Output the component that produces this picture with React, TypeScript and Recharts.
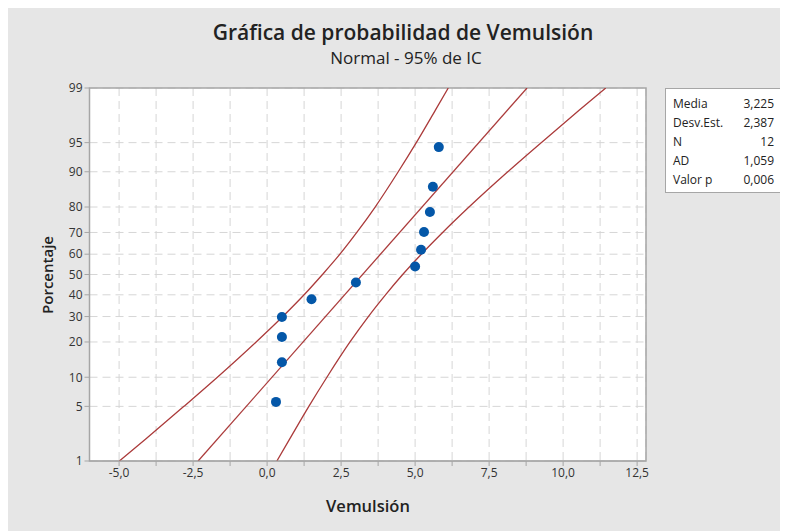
import React from 'react';
import {
  ComposedChart,
  XAxis,
  YAxis,
  CartesianGrid,
  Line,
  Scatter,
  ReferenceArea,
} from 'recharts';

// Vemulsión observations and their plotted percentages (median ranks)
const vemulsion = [0.3, 0.5, 0.5, 0.5, 1.5, 3.0, 5.0, 5.2, 5.3, 5.5, 5.6, 5.8];
const percentages = [5.6, 13.7, 21.8, 29.8, 37.9, 46.0, 54.0, 62.1, 70.2, 78.2, 86.3, 94.4];

// fitted line ends
const fitX = [-2.33, 8.78];
const fitPct = [1, 99];

// 95% confidence band, read at these percentages
const bandPct = [1, 2, 5, 10, 20, 30, 40, 50, 60, 70, 80, 90, 95, 98, 99];
const bandLower = [-4.99, -4.11, -2.81, -1.68, -0.37, 0.53, 1.25, 1.87, 2.46, 3.03, 3.65, 4.43, 5.04, 5.69, 6.12];
const bandUpper = [0.33, 0.76, 1.41, 2.02, 2.8, 3.42, 4.0, 4.58, 5.21, 5.93, 6.82, 8.13, 9.26, 10.56, 11.44];

const percentTicks = [1, 5, 10, 20, 30, 40, 50, 60, 70, 80, 90, 95, 99];
const xTicks = [-5, -3.75, -2.5, -1.25, 0, 1.25, 2.5, 3.75, 5, 6.25, 7.5, 8.75, 10, 11.25, 12.5];
const xLabelled = [-5, -2.5, 0, 2.5, 5, 7.5, 10, 12.5];

const stats = [
  ['Media', '3,225'],
  ['Desv.Est.', '2,387'],
  ['N', '12'],
  ['AD', '1,059'],
  ['Valor p', '0,006'],
];

// inverse standard normal CDF (Acklam), used as the probability-axis scale
function probit(p: number): number {
  const a = [-39.69683028665376, 220.9460984245205, -275.928510446969, 138.357751867269, -30.66479806614716, 2.506628277459239];
  const b = [-54.47609879822406, 161.5858368580409, -155.6989798598866, 66.80131188771972, -13.28068155288572];
  const c = [-0.007784894002430293, -0.3223964580411365, -2.400758277161838, -2.549732539343734, 4.374664141464968, 2.938163982698783];
  const d = [0.007784695709041462, 0.3224671290700398, 2.445134137142996, 3.754408661907416];
  const pl = 0.02425;
  if (p < pl) {
    const q = Math.sqrt(-2 * Math.log(p));
    return (((((c[0] * q + c[1]) * q + c[2]) * q + c[3]) * q + c[4]) * q + c[5]) / ((((d[0] * q + d[1]) * q + d[2]) * q + d[3]) * q + 1);
  }
  if (p > 1 - pl) {
    const q = Math.sqrt(-2 * Math.log(1 - p));
    return -(((((c[0] * q + c[1]) * q + c[2]) * q + c[3]) * q + c[4]) * q + c[5]) / ((((d[0] * q + d[1]) * q + d[2]) * q + d[3]) * q + 1);
  }
  const q = p - 0.5;
  const r = q * q;
  return ((((((a[0] * r + a[1]) * r + a[2]) * r + a[3]) * r + a[4]) * r + a[5]) * q) / (((((b[0] * r + b[1]) * r + b[2]) * r + b[3]) * r + b[4]) * r + 1);
}

const z = (pct: number) => probit(pct / 100);

const points = vemulsion.map((x, i) => ({ x, z: z(percentages[i]) }));
const fitLine = fitX.map((x, i) => ({ x, z: z(fitPct[i]) }));
const lowerLine = bandLower.map((x, i) => ({ x, z: z(bandPct[i]) }));
const upperLine = bandUpper.map((x, i) => ({ x, z: z(bandPct[i]) }));

const yTicks = percentTicks.map(z);
const Z_MIN = z(1);
const Z_MAX = z(99);
const X_MIN = -6;
const X_MAX = 12.8;

const RED = '#ab3b3b';
const BLUE = '#0457a8';
const FONT = '"Open Sans", "Noto Sans", sans-serif';

const formatX = (v: number) => (xLabelled.includes(v) ? v.toFixed(1).replace('.', ',') : '');
const formatY = (v: number) => {
  const i = yTicks.findIndex((t) => Math.abs(t - v) < 1e-6);
  return i >= 0 ? String(percentTicks[i]) : '';
};

export default function App() {
  return (
    <div
      style={{
        position: 'relative',
        width: 780,
        height: 527,
        marginTop: -4,
        background: '#e6e6e6',
        fontFamily: FONT,
        color: '#222',
      }}
    >
      <div style={{ position: 'absolute', left: 0, width: 790, top: 15, textAlign: 'center', fontSize: 21, fontWeight: 600, lineHeight: '26px' }}>
        Gráfica de probabilidad de Vemulsión
      </div>
      <div style={{ position: 'absolute', left: 0, width: 796, top: 43, textAlign: 'center', fontSize: 17, fontWeight: 500, lineHeight: '22px' }}>
        Normal - 95% de IC
      </div>
      <div style={{ position: 'absolute', left: 260, width: 200, top: 491, textAlign: 'center', fontSize: 16.5, fontWeight: 600, lineHeight: '22px' }}>
        Vemulsión
      </div>
      <div
        style={{
          position: 'absolute',
          left: 39,
          top: 271,
          transform: 'translate(-50%, -50%) rotate(-90deg)',
          fontSize: 15,
          fontWeight: 600,
          lineHeight: '20px',
          whiteSpace: 'nowrap',
        }}
      >
        Porcentaje
      </div>

      <ComposedChart
        width={780}
        height={527}
        margin={{ top: 84, right: 142, bottom: 40, left: 41.5 }}
        style={{ position: 'absolute', left: 0, top: 0 }}
      >
        <CartesianGrid fill="#ffffff" stroke="#d6d6d6" strokeDasharray="8 5" />
        <XAxis
          type="number"
          dataKey="x"
          domain={[X_MIN, X_MAX]}
          allowDataOverflow
          ticks={xTicks}
          interval={0}
          tickFormatter={formatX}
          height={30}
          stroke="#a6a6a6"
          tick={{ fill: '#333', fontSize: 12, fontFamily: FONT }}
          tickSize={5}
        />
        <YAxis
          type="number"
          dataKey="z"
          domain={[Z_MIN, Z_MAX]}
          allowDataOverflow
          ticks={yTicks}
          interval={0}
          tickFormatter={formatY}
          width={40}
          stroke="#a6a6a6"
          tick={{ fill: '#333', fontSize: 12, fontFamily: FONT }}
          tickSize={5}
        />
        <ReferenceArea x1={X_MIN} x2={X_MAX} y1={Z_MIN} y2={Z_MAX} fill="none" stroke="#a6a6a6" strokeWidth={1.5} fillOpacity={0} />
        <Line data={lowerLine} dataKey="z" type="monotone" stroke={RED} strokeWidth={1.3} dot={false} isAnimationActive={false} />
        <Line data={upperLine} dataKey="z" type="monotone" stroke={RED} strokeWidth={1.3} dot={false} isAnimationActive={false} />
        <Line data={fitLine} dataKey="z" type="linear" stroke={RED} strokeWidth={1.3} dot={false} isAnimationActive={false} />
        <Scatter data={points} dataKey="z" fill={BLUE} shape={(p: any) => <circle cx={p.cx} cy={p.cy} r={5} fill={BLUE} />} isAnimationActive={false} />
      </ComposedChart>

      <div
        style={{
          position: 'absolute',
          left: 657,
          top: 84,
          width: 117,
          height: 105,
          background: '#fff',
          border: '1px solid #a6a6a6',
          fontSize: 12,
          padding: '5px 0',
          boxSizing: 'border-box',
        }}
      >
        {stats.map(([k, v]) => (
          <div key={k} style={{ display: 'flex', justifyContent: 'space-between', padding: '0 7px 0 7px', lineHeight: '19px' }}>
            <span>{k}</span>
            <span>{v}</span>
          </div>
        ))}
      </div>
    </div>
  );
}
